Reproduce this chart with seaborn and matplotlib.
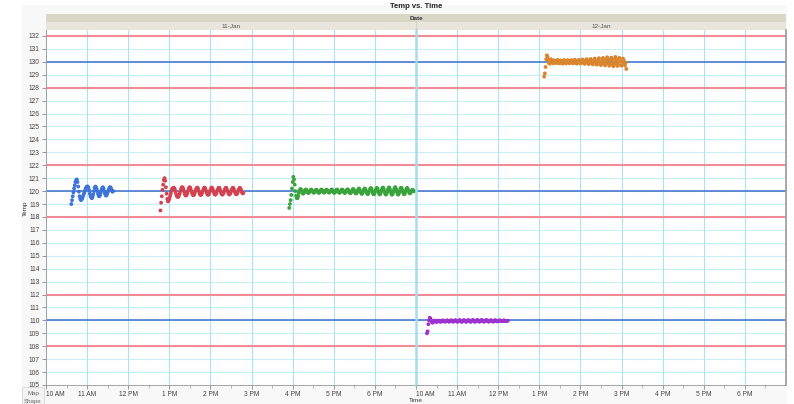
import matplotlib
matplotlib.use("Agg")
import matplotlib.pyplot as plt
import matplotlib.dates as mdates
from matplotlib.patches import Rectangle
import numpy as np
import pandas as pd
import seaborn as sns

# ---- data: one reading per minute, start given as minutes after 10 AM ----
dates = ["11-Jan", "12-Jan"]
day_of = {"11-Jan": "2024-01-11", "12-Jan": "2024-01-12"}

run_a_date, run_a_start = "11-Jan", 37
run_a_temp = [119.0, 119.3, 119.6, 119.9, 120.2, 120.45, 120.7, 120.85, 120.9, 120.7,
              120.35, 119.95, 119.6, 119.4, 119.3, 119.35, 119.45, 119.6, 119.75, 119.9,
              120.05, 120.2, 120.3, 120.35, 120.35, 120.25, 120.05, 119.8, 119.6, 119.5,
              119.45, 119.55, 119.75, 120.0, 120.25, 120.35, 120.3, 120.15, 119.95, 119.75,
              119.62, 119.6, 119.7, 119.9, 120.1, 120.25, 120.3, 120.2, 120.0, 119.8,
              119.68, 119.65, 119.75, 119.9, 120.05, 120.2, 120.28, 120.3, 120.2, 120.05,
              119.95, 120.0]

run_b_date, run_b_start = "11-Jan", 167
run_b_temp = [118.5, 119.1, 119.6, 120.1, 120.5, 120.85, 121.0, 120.8, 120.3, 119.8,
              119.4, 119.2, 119.25, 119.4, 119.6, 119.8, 120.0, 120.15, 120.22, 120.25,
              120.25, 120.15, 119.95, 119.75, 119.6, 119.55, 119.55, 119.65, 119.8, 119.98,
              120.15, 120.28, 120.3, 120.22, 120.05, 119.85, 119.7, 119.65, 119.68, 119.8,
              119.97, 120.15, 120.27, 120.3, 120.2, 120.02, 119.85, 119.72, 119.68, 119.72,
              119.85, 120.0, 120.15, 120.25, 120.27, 120.18, 120.0, 119.83, 119.72, 119.7,
              119.75, 119.88, 120.03, 120.18, 120.27, 120.25, 120.12, 119.95, 119.8, 119.72,
              119.72, 119.8, 119.95, 120.1, 120.22, 120.27, 120.2, 120.05, 119.88, 119.76,
              119.72, 119.76, 119.88, 120.03, 120.17, 120.26, 120.25, 120.12, 119.95, 119.8,
              119.73, 119.74, 119.84, 119.98, 120.13, 120.24, 120.26, 120.16, 120.0, 119.84,
              119.75, 119.74, 119.82, 119.96, 120.1, 120.22, 120.26, 120.18, 120.02, 119.87,
              119.77, 119.75, 119.8, 119.93, 120.08, 120.2, 120.25, 120.18, 120.04, 119.9,
              119.82, 119.85]

run_c_date, run_c_start = "11-Jan", 355
run_c_temp = [118.7, 119.0, 119.3, 119.7, 120.2, 120.7, 121.1, 120.9, 120.5, 120.0,
              119.65, 119.45, 119.45, 119.6, 119.85, 120.05, 120.15, 120.15, 120.05, 119.9,
              119.8, 119.82, 119.92, 120.05, 120.12, 120.1, 120.0, 119.9, 119.85, 119.88,
              119.98, 120.08, 120.12, 120.08, 119.98, 119.9, 119.87, 119.92, 120.02, 120.1,
              120.1, 120.02, 119.92, 119.86, 119.88, 119.97, 120.07, 120.12, 120.08, 119.98,
              119.9, 119.88, 119.93, 120.03, 120.1, 120.1, 120.02, 119.93, 119.88, 119.9,
              119.98, 120.07, 120.12, 120.08, 119.97, 119.88, 119.86, 119.92, 120.02, 120.1,
              120.12, 120.04, 119.94, 119.87, 119.88, 119.96, 120.06, 120.12, 120.1, 120.0,
              119.9, 119.85, 119.88, 119.97, 120.08, 120.14, 120.1, 119.99, 119.88, 119.83,
              119.86, 119.96, 120.08, 120.16, 120.13, 120.02, 119.9, 119.82, 119.82, 119.92,
              120.05, 120.17, 120.2, 120.1, 119.95, 119.82, 119.78, 119.84, 119.98, 120.12,
              120.2, 120.16, 120.03, 119.88, 119.78, 119.78, 119.88, 120.03, 120.17, 120.24,
              120.18, 120.02, 119.85, 119.75, 119.77, 119.9, 120.06, 120.2, 120.25, 120.16,
              119.98, 119.82, 119.74, 119.78, 119.93, 120.1, 120.24, 120.27, 120.15, 119.96,
              119.8, 119.73, 119.78, 119.94, 120.12, 120.26, 120.28, 120.14, 119.95, 119.78,
              119.72, 119.78, 119.95, 120.13, 120.27, 120.3, 120.15, 119.94, 119.77, 119.72,
              119.8, 119.97, 120.15, 120.26, 120.24, 120.08, 119.9, 119.77, 119.75, 119.85,
              120.02, 120.18, 120.25, 120.18, 120.02, 119.88, 119.82, 119.86, 119.96, 120.06,
              120.1, 120.05, 119.98]

run_d_date, run_d_start = "12-Jan", 16
run_d_temp = [109.0, 109.15, 109.7, 110.0, 110.2, 110.15, 110.0, 109.88, 109.82, 109.85,
              109.93, 109.98, 109.97, 109.92, 109.88, 109.9, 109.95, 109.98, 109.96, 109.91,
              109.89, 109.92, 109.97, 110.0, 109.97, 109.92, 109.9, 109.92, 109.97, 110.0,
              109.98, 109.93, 109.9, 109.91, 109.96, 110.0, 109.99, 109.94, 109.9, 109.91,
              109.96, 110.01, 110.0, 109.95, 109.9, 109.9, 109.95, 110.0, 110.02, 109.97,
              109.91, 109.89, 109.93, 109.99, 110.02, 109.99, 109.93, 109.89, 109.91, 109.97,
              110.02, 110.01, 109.95, 109.9, 109.89, 109.94, 110.0, 110.03, 109.99, 109.93,
              109.89, 109.91, 109.97, 110.02, 110.02, 109.96, 109.91, 109.9, 109.94, 110.0,
              110.03, 110.0, 109.94, 109.9, 109.91, 109.96, 110.01, 110.02, 109.98, 109.93,
              109.9, 109.92, 109.97, 110.01, 110.0, 109.95, 109.91, 109.91, 109.95, 110.0,
              110.01, 109.97, 109.93, 109.92, 109.94, 109.98, 110.0, 109.98, 109.95, 109.93,
              109.94, 109.97, 109.99, 109.98, 109.96, 109.95, 109.96, 109.97, 109.97]

run_e_date, run_e_start = "12-Jan", 187
run_e_temp = [128.85, 129.1, 129.6, 130.2, 130.5, 130.4, 130.15, 129.9, 129.85, 130.05,
              130.2, 130.1, 129.95, 129.88, 130.0, 130.12, 130.05, 129.9, 129.92, 130.08,
              130.15, 130.02, 129.88, 129.93, 130.1, 130.06, 129.9, 129.85, 130.0, 130.14,
              130.08, 129.93, 129.87, 129.98, 130.12, 130.1, 129.95, 129.88, 129.96, 130.1,
              130.13, 130.0, 129.88, 129.9, 130.05, 130.16, 130.06, 129.9, 129.86, 129.97,
              130.12, 130.14, 130.0, 129.87, 129.9, 130.06, 130.18, 130.1, 129.93, 129.84,
              129.92, 130.1, 130.2, 130.08, 129.9, 129.82, 129.95, 130.15, 130.22, 130.05,
              129.85, 129.8, 129.95, 130.18, 130.25, 130.05, 129.82, 129.78, 129.98, 130.2,
              130.28, 130.05, 129.8, 129.75, 129.95, 130.22, 130.3, 130.1, 129.82, 129.72,
              129.92, 130.2, 130.35, 130.15, 129.85, 129.7, 129.88, 130.18, 130.32, 130.1,
              129.8, 129.65, 129.9, 130.22, 130.38, 130.12, 129.78, 129.68, 129.95, 130.25,
              130.3, 130.05, 129.75, 129.7, 130.0, 130.25, 130.15, 129.85, 129.72, 129.95,
              129.45]

runs = {
    "A": (run_a_date, run_a_start, run_a_temp),
    "B": (run_b_date, run_b_start, run_b_temp),
    "C": (run_c_date, run_c_start, run_c_temp),
    "D": (run_d_date, run_d_start, run_d_temp),
    "E": (run_e_date, run_e_start, run_e_temp),
}
run_colors = {"A": "#3d72d8", "B": "#d4414f", "C": "#3aa33c", "D": "#9d33cf", "E": "#da842e"}

spec_limits = [108, 112, 118, 122, 128, 132]
targets = [110, 120, 130]

y_min, y_max = 105, 132.46

# ---- build the long table ----
frames = []
for name, (d, start, temps) in runs.items():
    base = pd.Timestamp(day_of[d]) + pd.Timedelta(hours=10)
    t = base + pd.to_timedelta(start + np.arange(len(temps)), unit="min")
    frames.append(pd.DataFrame({"Date": d, "Time": t, "Temp": temps, "Run": name}))
df = pd.concat(frames, ignore_index=True)

# ---- figure ----
sns.set_theme(style="white")
plt.rcParams["font.family"] = ["Liberation Sans", "DejaVu Sans"]

W, H = 794, 404
fig = plt.figure(figsize=(W / 100, H / 100), dpi=100)
fig.patch.set_facecolor("white")


def fx(px):
    return px / W


def fy(py):
    return 1 - py / H


# light frame behind the whole report
fig.patches.append(Rectangle((fx(22), 0), fx(787) - fx(22), fy(5), transform=fig.transFigure,
                             facecolor="#f8f8f8", edgecolor="none", zorder=-3))
# header bands
fig.patches.append(Rectangle((fx(46), fy(22)), fx(786) - fx(46), fy(14) - fy(22),
                             transform=fig.transFigure, facecolor="#dad7c8",
                             edgecolor="none", zorder=-2))
fig.patches.append(Rectangle((fx(46), fy(30)), fx(786) - fx(46), fy(22) - fy(30),
                             transform=fig.transFigure, facecolor="#e7e5dc",
                             edgecolor="none", zorder=-2))
# bottom-left legend cell
fig.patches.append(Rectangle((fx(22), 0), fx(44) - fx(22), fy(387), transform=fig.transFigure,
                             facecolor="#f3f3f3", edgecolor="#d8d8d8", lw=0.6, zorder=-2))

panel_left = {"11-Jan": 46, "12-Jan": 416}
panel_w = 370
axes = {}
for d in dates:
    ax = fig.add_axes([fx(panel_left[d]), fy(385), fx(panel_w), fy(30) - fy(385)])
    ax.set_zorder(1)
    axes[d] = ax
    sub = df[df["Date"] == d]
    ax.set_facecolor("white")
    for y in range(105, 133):
        ax.axhline(y, color="#c9eef8", lw=0.8, zorder=0)
    for y in spec_limits:
        ax.axhline(y, color="#f28b96", lw=1.5, zorder=1)
    for y in targets:
        ax.axhline(y, color="#3d6fcc", lw=1.1, zorder=1)
    sns.scatterplot(data=sub, x="Time", y="Temp", hue="Run", palette=run_colors,
                    s=7.5, linewidth=0, legend=False, ax=ax, zorder=3)
    base = pd.Timestamp(day_of[d])
    ax.set_xlim(base + pd.Timedelta(hours=10), base + pd.Timedelta(hours=19))
    ax.set_ylim(y_min, y_max)
    ax.xaxis.set_major_locator(mdates.HourLocator(byhour=range(10, 19)))
    ax.xaxis.set_minor_locator(mdates.MinuteLocator(byminute=[30]))
    ax.xaxis.set_major_formatter(mdates.DateFormatter("%-I %p"))
    ax.grid(True, axis="x", which="major", color="#a9e4f4", lw=0.8, zorder=0)
    ax.set_axisbelow(True)
    ax.tick_params(axis="x", which="major", length=3, width=0.6, color="#888888",
                   labelsize=4.8, labelcolor="#444444", pad=1.5, direction="out", bottom=True)
    ax.tick_params(axis="x", which="minor", length=1.8, width=0.5, color="#999999", bottom=True)
    ax.set_xlabel("")
    ax.set_ylabel("")
    for side in ["top", "right", "left", "bottom"]:
        ax.spines[side].set_visible(False)
    ax.spines["bottom"].set_visible(True)
    ax.spines["bottom"].set_color("#999999")
    ax.spines["bottom"].set_linewidth(0.6)
    # the label at the panel's left edge starts at its tick
    fig.canvas.draw()
    ax.xaxis.get_major_ticks()[0].label1.set_horizontalalignment("left")

ax1, ax2 = axes["11-Jan"], axes["12-Jan"]
ax1.set_yticks(range(105, 133))
ax1.tick_params(axis="y", length=3, width=0.6, color="#888888", labelsize=4.8,
                labelcolor="#444444", pad=1.5, left=True)
ax1.spines["left"].set_visible(True)
ax1.spines["left"].set_color("#999999")
ax1.spines["left"].set_linewidth(0.6)
ax2.set_yticks(range(105, 133))
ax2.tick_params(axis="y", left=False, labelleft=False)
ax2.spines["left"].set_visible(True)
ax2.spines["left"].set_color("#a6dcee")
ax2.spines["left"].set_linewidth(1.8)
ax2.spines["right"].set_visible(True)
ax2.spines["right"].set_color("#9a9a9a")
ax2.spines["right"].set_linewidth(1.2)

# header and axis texts
fig.text(fx(416), fy(7), "Temp vs. Time", ha="center", va="center", fontsize=5.5,
         fontweight="bold", color="#222222")
fig.text(fx(416), fy(18), "Date", ha="center", va="center", fontsize=4.6,
         fontweight="bold", color="#333333")
for d in dates:
    fig.text(fx(panel_left[d] + panel_w / 2), fy(26), d, ha="center", va="center",
             fontsize=4.6, color="#555555")
fig.add_artist(plt.Line2D([fx(416), fx(416)], [fy(30), fy(22)], transform=fig.transFigure,
                          color="#cfccbe", lw=0.6))
fig.text(fx(25), fy(208), "Temp", ha="center", va="center", rotation=90, fontsize=4.6,
         color="#333333")
fig.text(fx(416), fy(400), "Time", ha="center", va="center", fontsize=4.6, color="#333333")
fig.text(fx(33), fy(394), "Map", ha="center", va="center", fontsize=4.4, color="#666666")
fig.text(fx(33), fy(401), "Shape", ha="center", va="center", fontsize=4.4, color="#666666")

fig.savefig("out.png", dpi=100, facecolor=fig.get_facecolor())
